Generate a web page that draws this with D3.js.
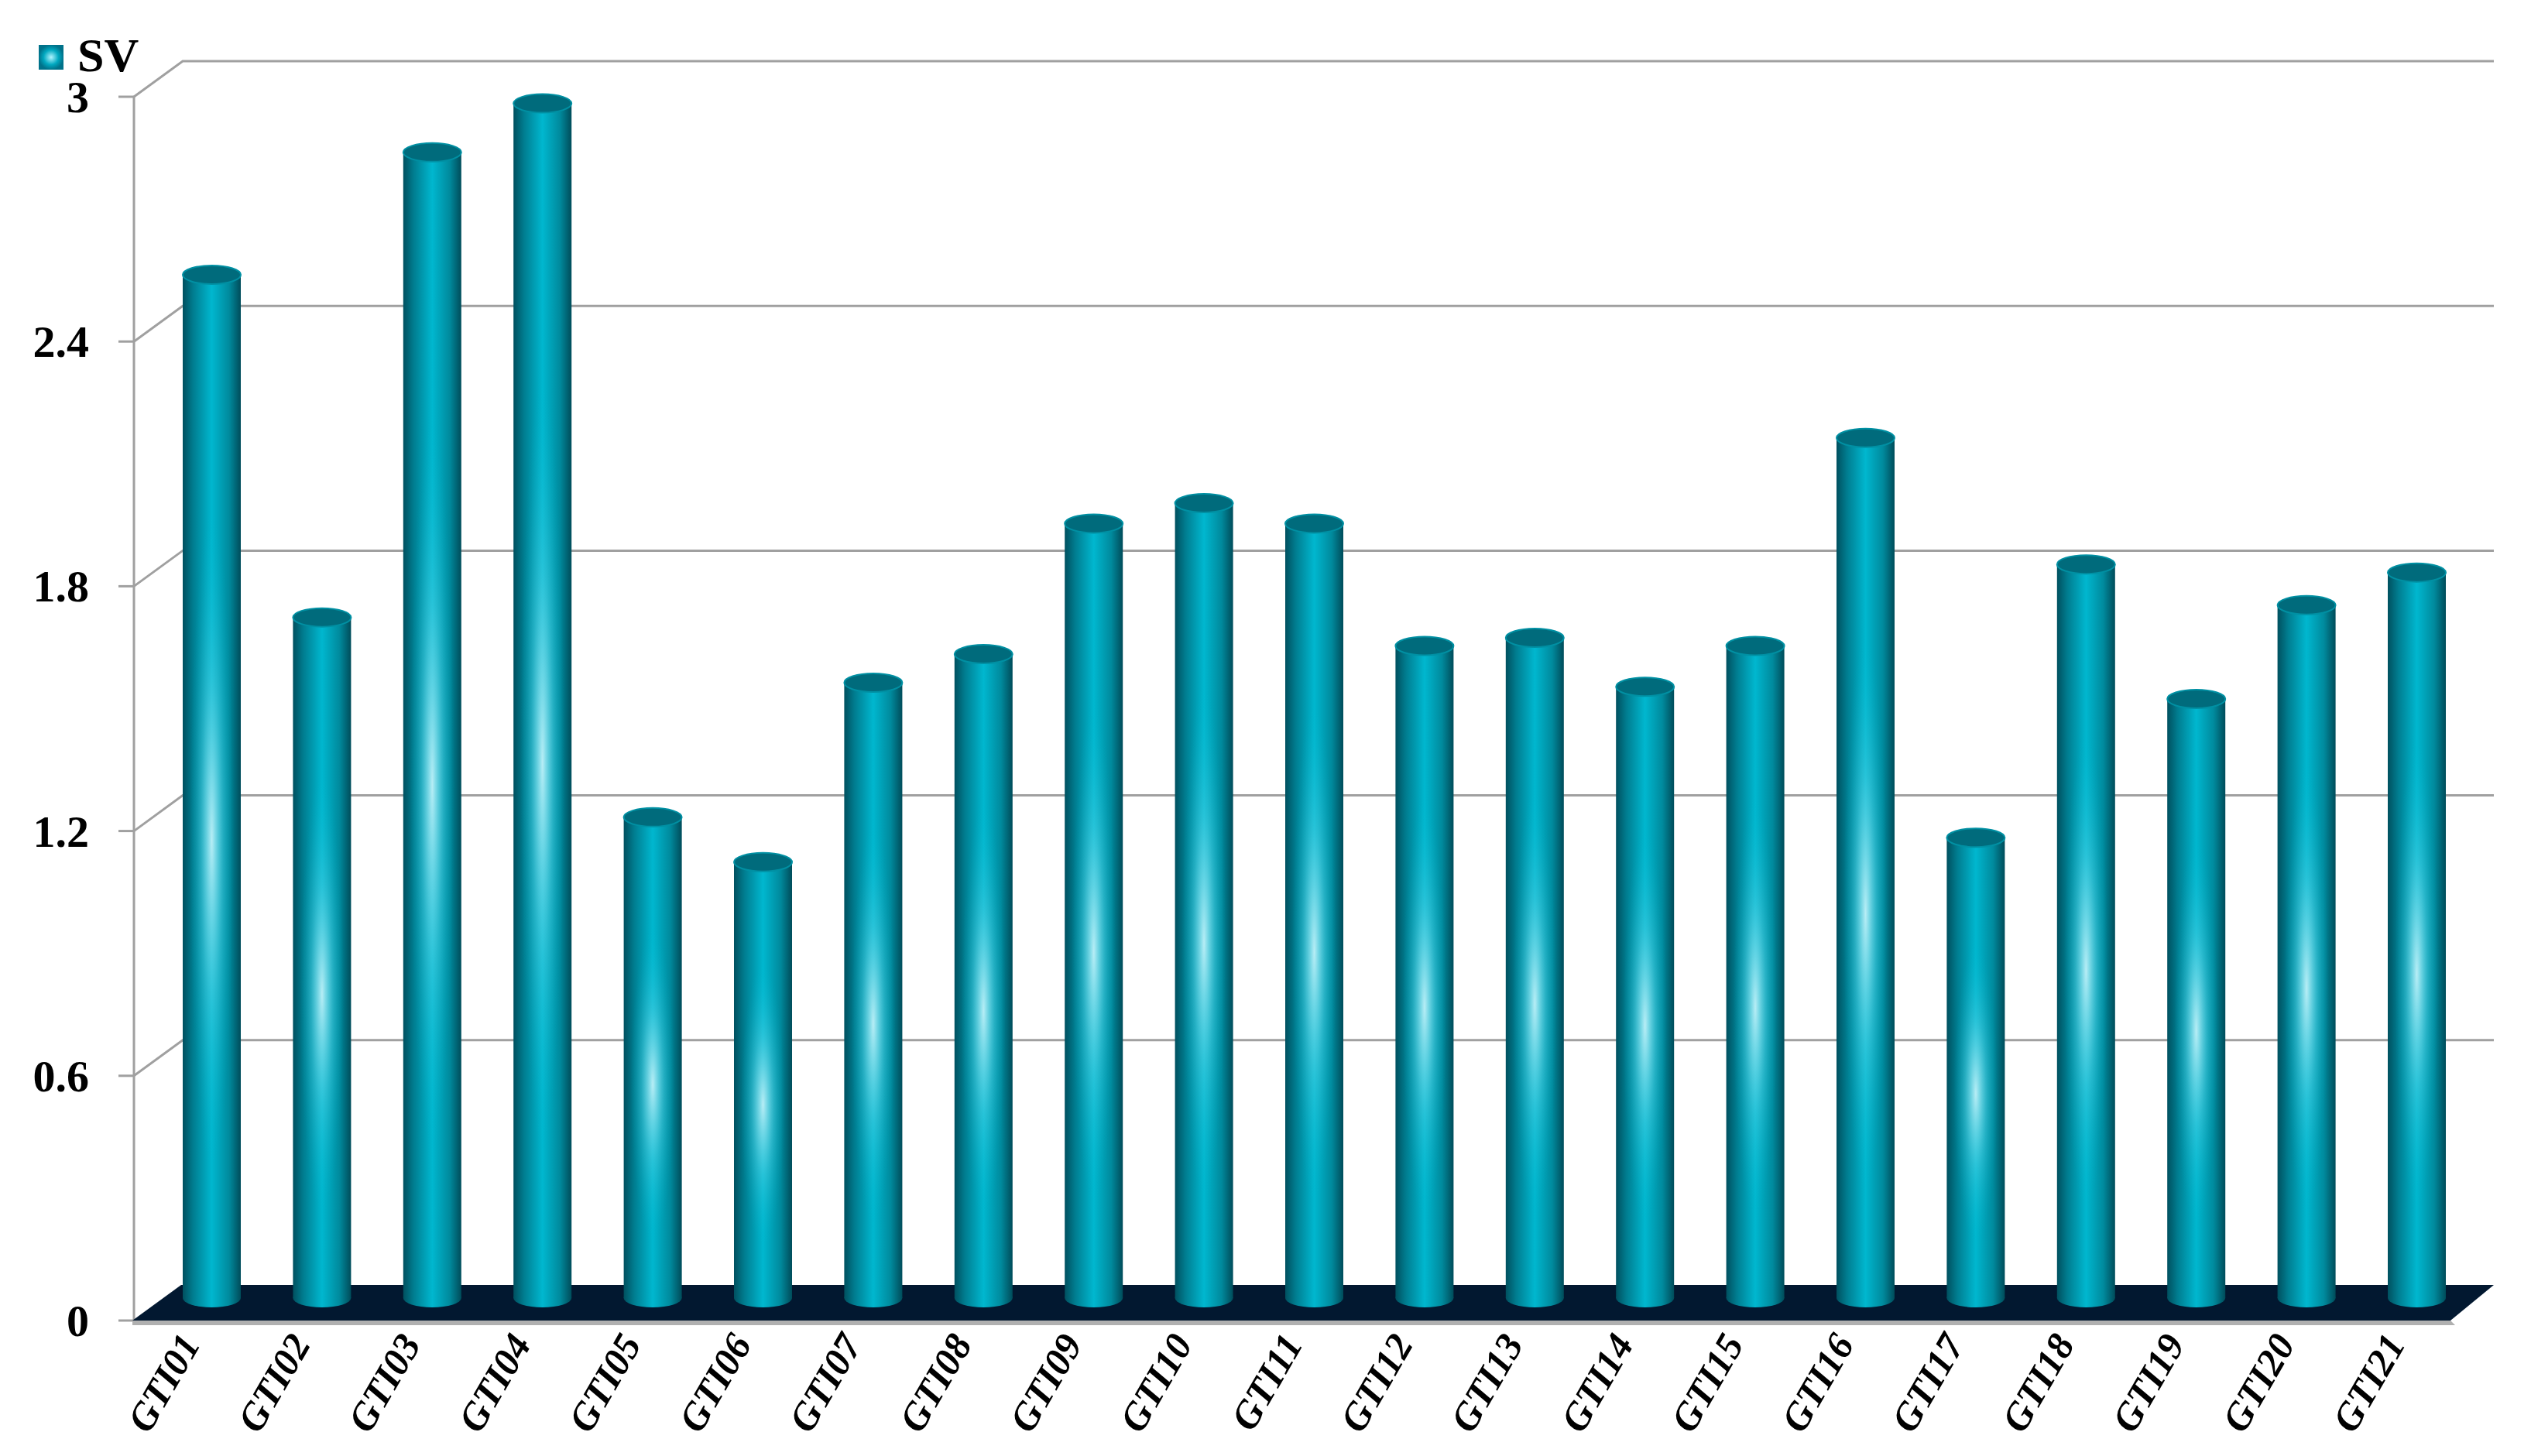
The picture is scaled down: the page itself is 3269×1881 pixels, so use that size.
<!DOCTYPE html>
<html><head><meta charset="utf-8">
<script src="https://cdn.jsdelivr.net/npm/d3@7"></script>
<style>body{margin:0;background:#fff}</style>
</head><body>
<script>
const categories = ["GTI01","GTI02","GTI03","GTI04","GTI05","GTI06","GTI07","GTI08","GTI09","GTI10","GTI11","GTI12","GTI13","GTI14","GTI15","GTI16","GTI17","GTI18","GTI19","GTI20","GTI21"];
const svValues = [2.52,1.68,2.82,2.94,1.19,1.08,1.52,1.59,1.91,1.96,1.91,1.61,1.63,1.51,1.61,2.12,1.14,1.81,1.48,1.71,1.79];
const tickValues = [0,0.6,1.2,1.8,2.4,3];
const seriesName = "SV";

const W = 3269, H = 1881;
const axisX = 173, dx = 63, dy = 46;
const y = d3.scaleLinear().domain([0, 3]).range([1706, 125]);
const x = d3.scalePoint().domain(categories).range([242, 3090]);
const barW = 75, capRy = 12;

const svg = d3.select("body").append("svg").attr("width", W).attr("height", H);
const defs = svg.append("defs");
const lg = defs.append("linearGradient").attr("id", "body");
[[0,"#00505f"],[0.18,"#007d90"],[0.5,"#00b7cf"],[0.8,"#008a9d"],[1,"#004c5a"]]
  .forEach(([o,c]) => lg.append("stop").attr("offset", o).attr("stop-color", c));
const rg = defs.append("radialGradient").attr("id", "glow");
rg.append("stop").attr("offset", 0).attr("stop-color", "#e6fbff").attr("stop-opacity", 0.8);
rg.append("stop").attr("offset", 0.5).attr("stop-color", "#7fe0f0").attr("stop-opacity", 0.3);
rg.append("stop").attr("offset", 1).attr("stop-color", "#00b7cf").attr("stop-opacity", 0);
const lgl = defs.append("radialGradient").attr("id", "leg");
[[0,"#b0f4ff"],[0.6,"#00a8c0"],[1,"#00728a"]].forEach(([o,c]) => lgl.append("stop").attr("offset", o).attr("stop-color", c));

const xEnd = 3221;
// gridlines
const g = svg.append("g").attr("stroke", "#a0a0a0").attr("stroke-width", 3).attr("fill", "none");
tickValues.forEach(v => {
  if (v > 0) g.append("path").attr("d", `M${axisX},${y(v)}L${axisX+dx},${y(v)-dy}L${xEnd},${y(v)-dy}`);
  g.append("line").attr("x1", axisX-20).attr("x2", axisX).attr("y1", y(v)).attr("y2", y(v));
});
g.append("line").attr("x1", axisX).attr("x2", axisX).attr("y1", y(3)).attr("y2", y(0));

// floor
const floorStart = axisX - 2, floorEndFront = 3165;
svg.append("path")
  .attr("d", `M${floorStart},${y(0)}L${floorEndFront},${y(0)}L${floorEndFront+6},${y(0)+6}L${floorStart},${y(0)+6}Z`)
  .attr("fill", "#b0b0b0");
svg.append("path")
  .attr("d", `M${floorStart},${y(0)}L${floorStart+dx},${y(0)-dy}L${xEnd},${y(0)-dy}L${floorEndFront},${y(0)}Z`)
  .attr("fill", "#021830");

// tick labels
svg.append("g").selectAll("text").data(tickValues).join("text")
  .attr("x", axisX-58).attr("y", d => y(d)+20)
  .attr("text-anchor", "end")
  .attr("font-family", "Liberation Serif, serif").attr("font-weight", "bold").attr("font-size", 58)
  .text(d => d);

// bars
const bars = svg.append("g").selectAll("g").data(categories).join("g")
  .attr("transform", (d) => `translate(${x(d)+dx/2},${-dy/2})`);
bars.each(function(d, i) {
  const b = d3.select(this);
  const top = y(svValues[i]), bot = y(0);
  b.append("ellipse").attr("cx", 0).attr("cy", bot - 6).attr("rx", barW/2).attr("ry", capRy).attr("fill", "url(#body)");
  b.append("rect").attr("x", -barW/2).attr("y", top).attr("width", barW).attr("height", bot - 6 - top).attr("fill", "url(#body)");
  b.append("ellipse").attr("cx", 0).attr("cy", top + (bot-top)*0.55).attr("rx", barW*0.38).attr("ry", (bot-top)*0.32).attr("fill", "url(#glow)");
  b.append("ellipse").attr("cx", 0).attr("cy", top).attr("rx", barW/2).attr("ry", capRy).attr("fill", "#006b7c").attr("stroke", "#0090a3").attr("stroke-width", 2);
});

// x labels
svg.append("g").selectAll("text").data(categories).join("text")
  .attr("transform", d => `translate(${x(d)+18},${y(0)+30}) rotate(-60)`)
  .attr("text-anchor", "end")
  .attr("font-family", "Liberation Serif, serif").attr("font-weight", "bold").attr("font-style", "italic").attr("font-size", 50)
  .text(d => d);

// legend
svg.append("rect").attr("x", 50).attr("y", 58).attr("width", 32).attr("height", 32).attr("fill", "url(#leg)");
svg.append("text").attr("x", 100).attr("y", 92)
  .attr("font-family", "Liberation Serif, serif").attr("font-weight", "bold").attr("font-size", 62)
  .text(seriesName);
</script>
</body></html>
